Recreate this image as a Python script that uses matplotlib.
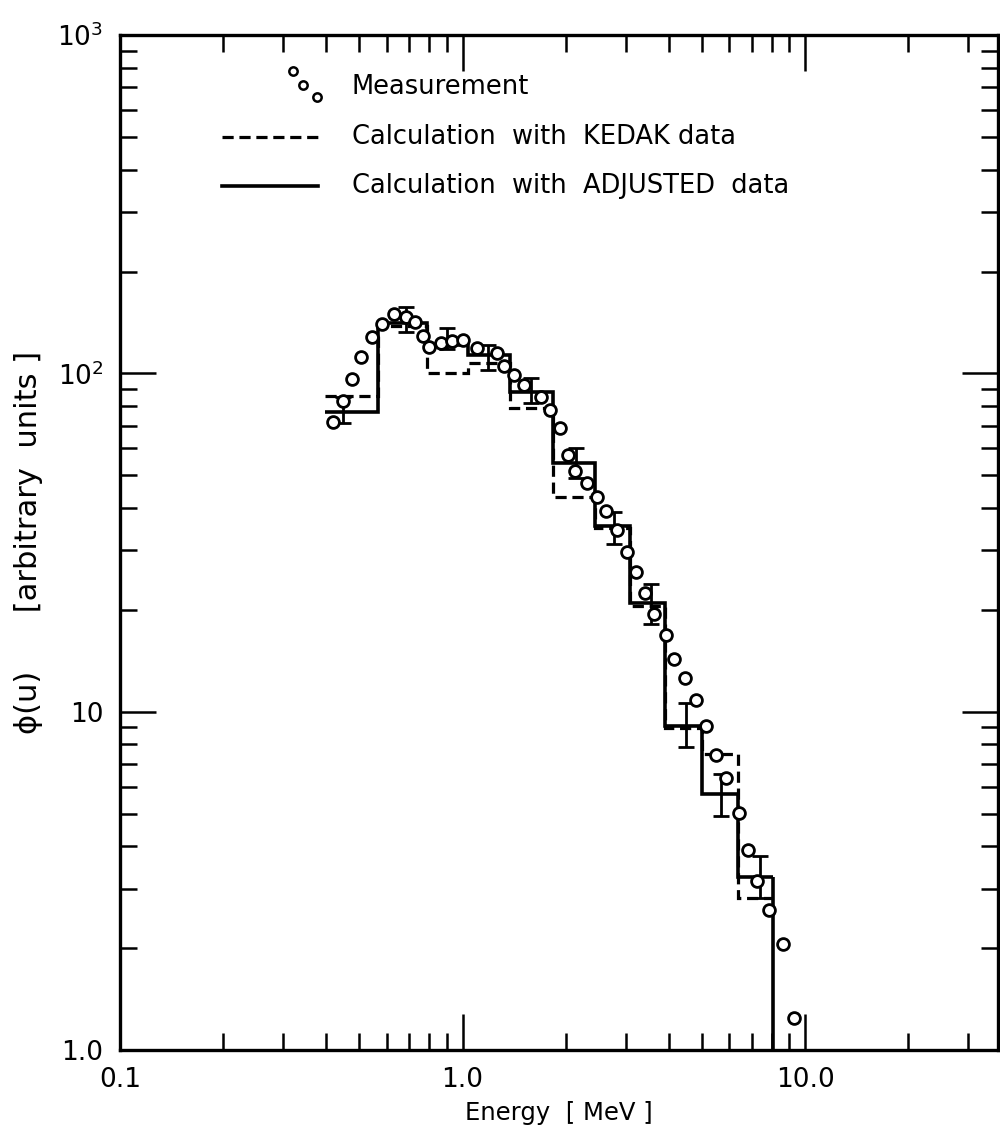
import matplotlib.pyplot as plt
from matplotlib.ticker import FixedLocator, NullFormatter
import numpy as np

plt.rcParams['font.family'] = ['DejaVu Sans']
plt.rcParams['mathtext.default'] = 'regular'

# group boundaries [MeV] of the two calculated spectra
edges = [0.398, 0.565, 0.79, 1.04, 1.38, 1.84, 2.44, 3.09, 3.89, 5.02, 6.36, 8.09]
kedak = [85.5, 137.8, 100.0, 107.0, 78.8, 43.0, 34.8, 20.6, 8.98, 7.52, 2.82]
adjusted = [76.7, 140.6, 121.0, 113.0, 87.9, 54.2, 35.5, 20.9, 9.10, 5.71, 3.25]

# measured points
meas_e = [0.420, 0.449, 0.477, 0.507, 0.546, 0.584, 0.629, 0.682, 0.729, 0.769,
          0.801, 0.863, 0.929, 1.00, 1.106, 1.265, 1.326, 1.418, 1.507, 1.690,
          1.795, 1.920, 2.026, 2.137, 2.302, 2.462, 2.616, 2.817, 3.032, 3.200,
          3.422, 3.612, 3.915, 4.131, 4.448, 4.790, 5.123, 5.479, 5.860, 6.395,
          6.839, 7.266, 7.824, 8.597, 9.257]
meas_phi = [71.6, 82.6, 96.0, 111.5, 127.8, 139.6, 149.5, 146.4, 141.5, 128.7,
            119.4, 122.7, 124.4, 125.2, 118.6, 114.6, 104.9, 98.6, 92.2, 84.9,
            77.7, 68.8, 57.2, 51.3, 47.3, 43.0, 39.1, 34.5, 29.7, 25.8,
            22.5, 19.5, 16.8, 14.35, 12.6, 10.8, 9.09, 7.46, 6.38, 5.03,
            3.91, 3.16, 2.60, 2.06, 1.24]

# error bars (lower / upper limit)
err_e = [0.449, 0.682, 0.904, 1.183, 1.59, 2.14, 2.76, 3.54, 4.48, 5.67, 7.41]
err_lo = [71.1, 132.2, 117.8, 102.1, 82.0, 49.2, 31.4, 18.2, 7.87, 4.92, 2.82]
err_hi = [84.9, 156.7, 135.9, 121.0, 96.6, 60.0, 38.8, 23.9, 10.6, 6.56, 3.75]

fig = plt.figure(figsize=(10, 11.31), dpi=100)
ax = fig.add_axes([0.12, 0.0716, 0.878, 0.8974])
ax.set_xscale('log')
ax.set_yscale('log')
ax.set_xlim(0.1, 36.6)
ax.set_ylim(1.0, 1000)

# histograms
ax.stairs(kedak, edges, baseline=None, color='black', lw=2.3,
          linestyle=(0, (3.5, 1.8)), zorder=2)
ax.stairs(adjusted, edges, baseline=None, color='black', lw=2.6, zorder=3)
ax.vlines(edges[-1], 1.0, max(adjusted[-1], kedak[-1]), color='black', lw=2.6, zorder=3)

# error bars
err_lo = np.array(err_lo)
err_hi = np.array(err_hi)
ax.errorbar(err_e, err_lo, yerr=[np.zeros_like(err_lo), err_hi - err_lo],
            fmt='none', ecolor='black', elinewidth=2.0, capsize=5.5, capthick=2.0, zorder=4)

# measurement
ax.plot(meas_e, meas_phi, 'o', ls='none', mfc='white', mec='black', ms=8.5, mew=2.0, zorder=5)

# ticks
for sp in ax.spines.values():
    sp.set_linewidth(2.4)
ax.xaxis.set_major_locator(FixedLocator([0.1, 1.0, 10.0]))
ax.xaxis.set_minor_locator(FixedLocator([m * d for d in [0.1, 1.0, 10.0] for m in range(2, 10)]))
ax.set_xticklabels(['0.1', '1.0', '10.0'])
ax.xaxis.set_minor_formatter(NullFormatter())
ax.yaxis.set_major_locator(FixedLocator([1, 10, 100, 1000]))
ax.yaxis.set_minor_locator(FixedLocator([m * d for d in [1, 10, 100] for m in range(2, 10)]))
ax.set_yticklabels(['1.0', '10', '$10^2$', '$10^3$'])
ax.yaxis.set_minor_formatter(NullFormatter())
ax.tick_params(which='major', direction='in', length=26, width=1.8,
               top=True, right=True, labelsize=19, pad=12)
ax.tick_params(which='minor', direction='in', length=12, width=1.8, top=True, right=True)

ax.set_xlabel('Energy  [ MeV ]', fontsize=17.5, labelpad=6)
ax.set_ylabel('ϕ(u)      [arbitrary  units ]', fontsize=22, labelpad=10)

# legend drawn by hand
tr = ax.transAxes
ax.plot([0.1966, 0.208, 0.2239], [0.9645, 0.9507, 0.9389], 'o', ls='none',
        mfc='white', mec='black', ms=6, mew=1.8, transform=tr, clip_on=False)
ax.plot([0.116, 0.225], [0.8995, 0.8995], color='black', lw=2.3,
        linestyle=(0, (3.5, 1.8)), transform=tr)
ax.plot([0.116, 0.225], [0.8512, 0.8512], color='black', lw=2.6, transform=tr)
ax.text(0.264, 0.9488, 'Measurement', fontsize=18.5, va='center', transform=tr)
ax.text(0.264, 0.8995, 'Calculation  with  KEDAK data', fontsize=18.5, va='center', transform=tr)
ax.text(0.264, 0.8512, 'Calculation  with  ADJUSTED  data', fontsize=18.5, va='center', transform=tr)

fig.savefig('out.png', dpi=100)
